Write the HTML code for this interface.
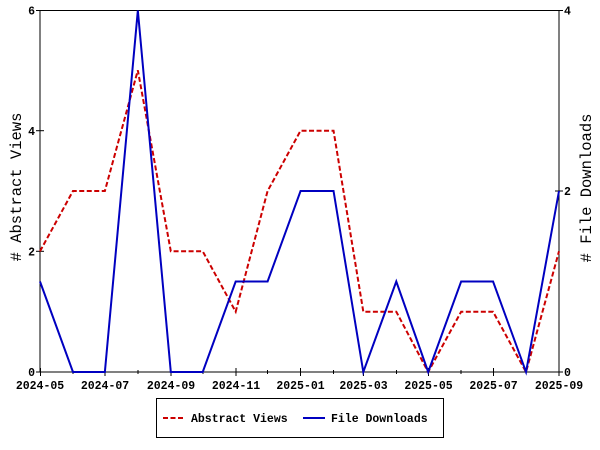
<!DOCTYPE html>
<html><head><meta charset="utf-8"><style>
html,body{margin:0;padding:0;background:#fff;}
svg{display:block;}
text{font-family:"Liberation Mono","DejaVu Sans Mono",monospace;}
.t{font-size:11.5px;font-weight:bold;fill:#000;}
.ti{font-size:15.5px;fill:#000;}
</style></head><body>
<svg width="600" height="450" viewBox="0 0 600 450" xmlns="http://www.w3.org/2000/svg">
<rect width="600" height="450" fill="#fff"/>
<rect x="40" y="10.5" width="519" height="361.5" fill="none" stroke="#000" stroke-width="1"/>
<g stroke="#000" stroke-width="1">
<line x1="36" y1="10.5" x2="44" y2="10.5"/>
<line x1="36" y1="130.7" x2="44" y2="130.7"/>
<line x1="36" y1="251.3" x2="44" y2="251.3"/>
<line x1="36" y1="372" x2="44" y2="372"/>
<line x1="555" y1="10.5" x2="563" y2="10.5"/>
<line x1="555" y1="191" x2="563" y2="191"/>
<line x1="555" y1="372" x2="563" y2="372"/>
<line x1="40.5" y1="368" x2="40.5" y2="376"/>
<line x1="105" y1="368" x2="105" y2="376"/>
<line x1="171" y1="368" x2="171" y2="376"/>
<line x1="236" y1="368" x2="236" y2="376"/>
<line x1="300.5" y1="368" x2="300.5" y2="376"/>
<line x1="363.5" y1="368" x2="363.5" y2="376"/>
<line x1="428.5" y1="368" x2="428.5" y2="376"/>
<line x1="493.5" y1="368" x2="493.5" y2="376"/>
<line x1="559" y1="368" x2="559" y2="376"/>
<line x1="73" y1="370" x2="73" y2="374"/>
<line x1="138" y1="370" x2="138" y2="374"/>
<line x1="203" y1="370" x2="203" y2="374"/>
<line x1="267.5" y1="370" x2="267.5" y2="374"/>
<line x1="333.5" y1="370" x2="333.5" y2="374"/>
<line x1="396.5" y1="370" x2="396.5" y2="374"/>
<line x1="461" y1="370" x2="461" y2="374"/>
<line x1="526" y1="370" x2="526" y2="374"/>
</g>
<text x="35" y="14.5" class="t" text-anchor="end">6</text>
<text x="35" y="135" class="t" text-anchor="end">4</text>
<text x="35" y="255.5" class="t" text-anchor="end">2</text>
<text x="35" y="376" class="t" text-anchor="end">0</text>
<text x="564" y="14.5" class="t">4</text>
<text x="564" y="195" class="t">2</text>
<text x="564" y="376" class="t">0</text>
<g text-anchor="middle">
<text x="40" y="389" class="t">2024-05</text>
<text x="105" y="389" class="t">2024-07</text>
<text x="171" y="389" class="t">2024-09</text>
<text x="236" y="389" class="t">2024-11</text>
<text x="300.5" y="389" class="t">2025-01</text>
<text x="363.5" y="389" class="t">2025-03</text>
<text x="428.5" y="389" class="t">2025-05</text>
<text x="493.5" y="389" class="t">2025-07</text>
<text x="559" y="389" class="t">2025-09</text>
</g>
<text class="ti" text-anchor="middle" transform="translate(21,187) rotate(-90)"># Abstract Views</text>
<text class="ti" text-anchor="middle" transform="translate(591,188) rotate(-90)"># File Downloads</text>
<polyline fill="none" stroke="#cc0000" stroke-width="2" stroke-dasharray="5,2.5"
points="40,251.3 72.97,191 104.87,191 137.84,70.3 170.81,251.3 202.72,251.3 235.69,311.7 267.59,191 300.56,130.7 333.53,130.7 363.31,311.7 396.28,311.7 428.19,372 461.15,311.7 493.06,311.7 526.03,372 559,251.3"/>
<polyline fill="none" stroke="#0000c0" stroke-width="2"
points="40,281.5 72.97,372 104.87,372 137.84,10.5 170.81,372 202.72,372 235.69,281.5 267.59,281.5 300.56,191 333.53,191 363.31,372 396.28,281.5 428.19,372 461.15,281.5 493.06,281.5 526.03,372 559,191"/>
<rect x="156.5" y="398.5" width="287" height="39" fill="#fff" stroke="#000" stroke-width="1"/>
<line x1="163" y1="418" x2="184" y2="418" stroke="#cc0000" stroke-width="2" stroke-dasharray="5,2.5"/>
<text x="191" y="422" class="t">Abstract Views</text>
<line x1="303" y1="418" x2="325" y2="418" stroke="#0000c0" stroke-width="2"/>
<text x="331" y="422" class="t">File Downloads</text>
</svg>
</body></html>
